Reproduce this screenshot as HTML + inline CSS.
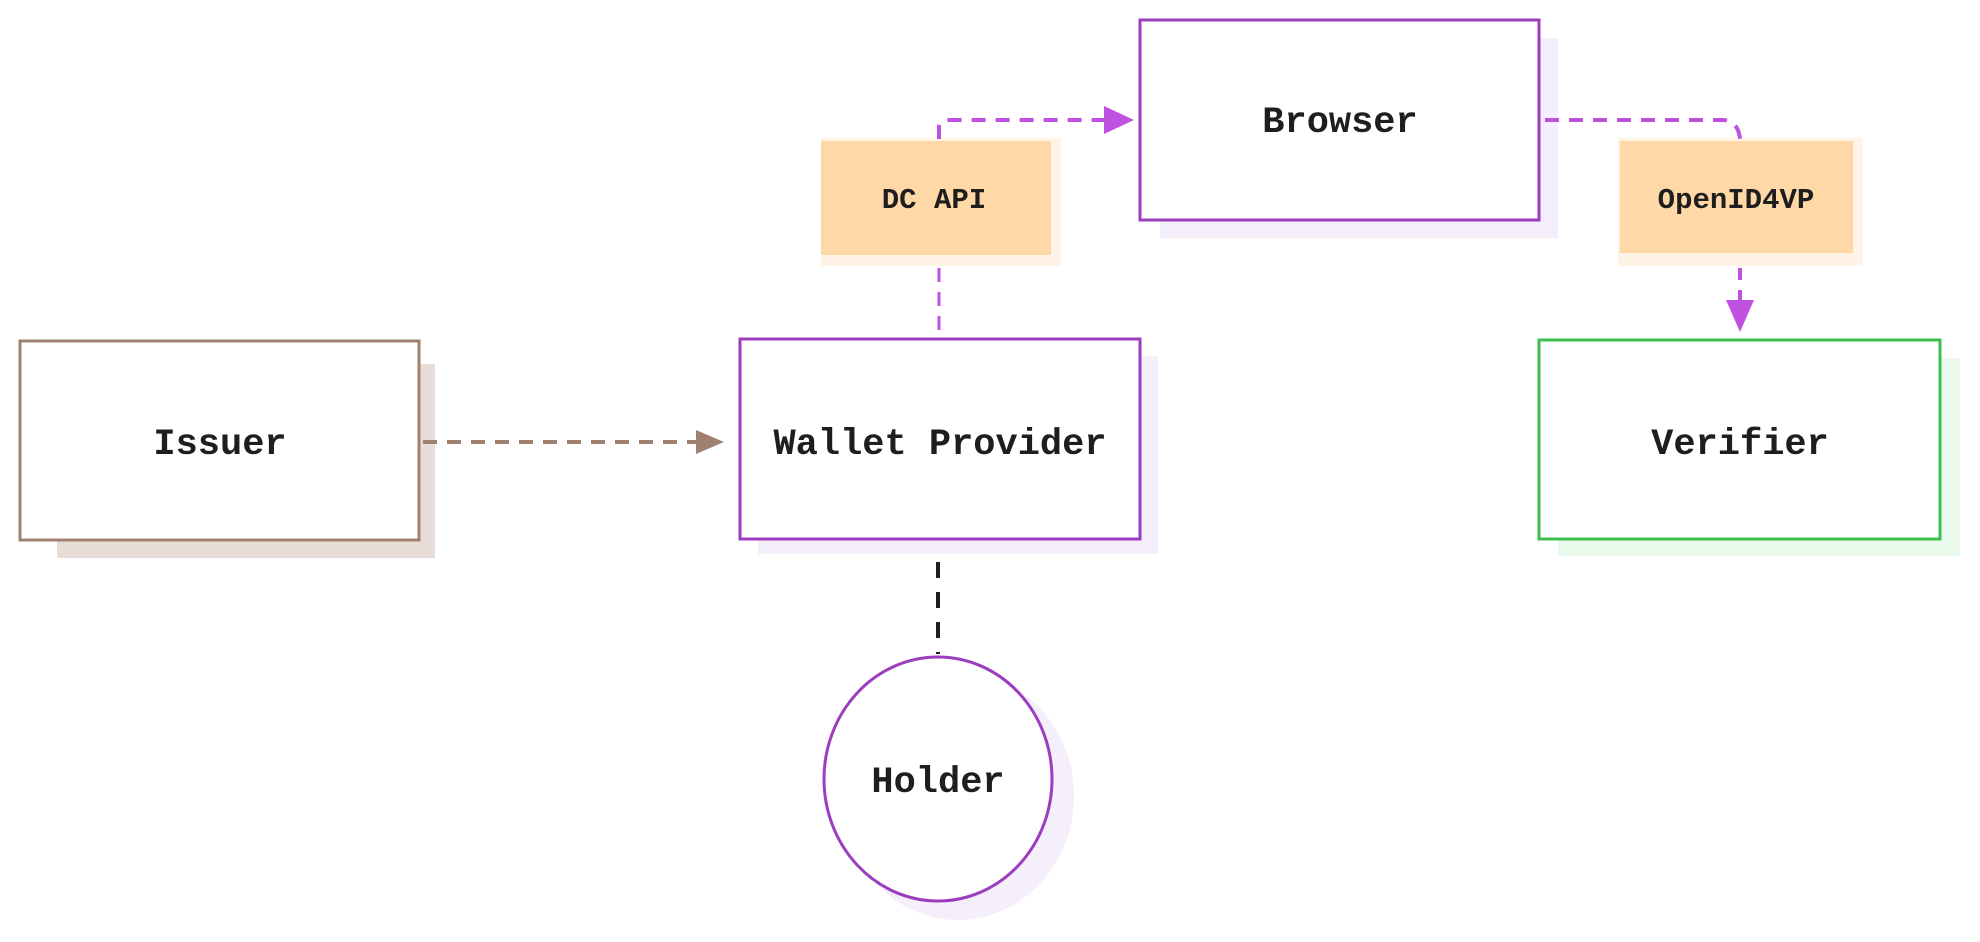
<!DOCTYPE html>
<html><head><meta charset="utf-8"><style>
html,body{margin:0;padding:0;background:#fff;width:1980px;height:942px;overflow:hidden}
svg text{font-family:"Liberation Mono",monospace;fill:#1e1e1e}
</style></head><body>
<svg width="1980" height="942" viewBox="0 0 1980 942" xmlns="http://www.w3.org/2000/svg">
<!-- shadows -->
<rect x="57" y="364" width="378" height="194" fill="#e8ddd6"/>
<rect x="758" y="356" width="400" height="198" fill="#f5eefb"/>
<rect x="1558" y="358" width="402" height="198" fill="#eafaec"/>
<rect x="1160" y="38" width="398" height="200" fill="#f5eefb"/>
<rect x="821" y="138" width="240" height="128" fill="#fff3e6"/>
<rect x="1618" y="138" width="245" height="128" fill="#fff3e6"/>
<ellipse cx="958" cy="796" rx="116" ry="124" fill="#f5eefb"/>
<!-- boxes -->
<rect x="20" y="341" width="399" height="199" fill="#fff" stroke="#a0806f" stroke-width="3"/>
<rect x="740" y="339" width="400" height="200" fill="#fff" stroke="#9c3dbf" stroke-width="3"/>
<rect x="1539" y="340" width="401" height="199" fill="#fff" stroke="#3dbf50" stroke-width="3"/>
<rect x="1140" y="20" width="399" height="200" fill="#fff" stroke="#9c3dbf" stroke-width="3"/>
<rect x="821" y="141" width="230" height="114" fill="#ffd8a8"/>
<rect x="1620" y="141" width="233" height="112" fill="#ffd8a8"/>
<ellipse cx="938" cy="779" rx="114" ry="122" fill="#fff" stroke="#9c3dbf" stroke-width="3"/>
<!-- connectors -->
<line x1="423" y1="442" x2="700" y2="442" stroke="#a0806f" stroke-width="4" stroke-dasharray="14 10"/>
<polygon points="696,430 724,442 696,454" fill="#a0806f"/>
<line x1="938" y1="562" x2="938" y2="654" stroke="#1e1e1e" stroke-width="4" stroke-dasharray="16 14"/>
<line x1="939" y1="268" x2="939" y2="335" stroke="#c050e0" stroke-width="3" stroke-dasharray="14 10"/>
<path d="M939 139 L939 128 Q939 120 950 120 L1108 120" fill="none" stroke="#c050e0" stroke-width="4" stroke-dasharray="14 10"/>
<polygon points="1104,106 1134,120 1104,134" fill="#c050e0"/>
<path d="M1545 120 L1722 120 Q1738 120 1740 139" fill="none" stroke="#c050e0" stroke-width="4" stroke-dasharray="14 10"/>
<line x1="1740" y1="268" x2="1740" y2="305" stroke="#c050e0" stroke-width="4" stroke-dasharray="12 10"/>
<polygon points="1726,300 1754,300 1740,332" fill="#c050e0"/>
<!-- text -->
<g font-weight="bold" font-size="37" text-anchor="middle">
<text x="220" y="454">Issuer</text>
<text x="940" y="454">Wallet Provider</text>
<text x="1740" y="454">Verifier</text>
<text x="1340" y="132">Browser</text>
<text x="938" y="792">Holder</text>
</g>
<g font-size="29" text-anchor="middle" font-weight="bold">
<text x="934" y="208">DC API</text>
<text x="1736" y="208">OpenID4VP</text>
</g>
</svg>
</body></html>
